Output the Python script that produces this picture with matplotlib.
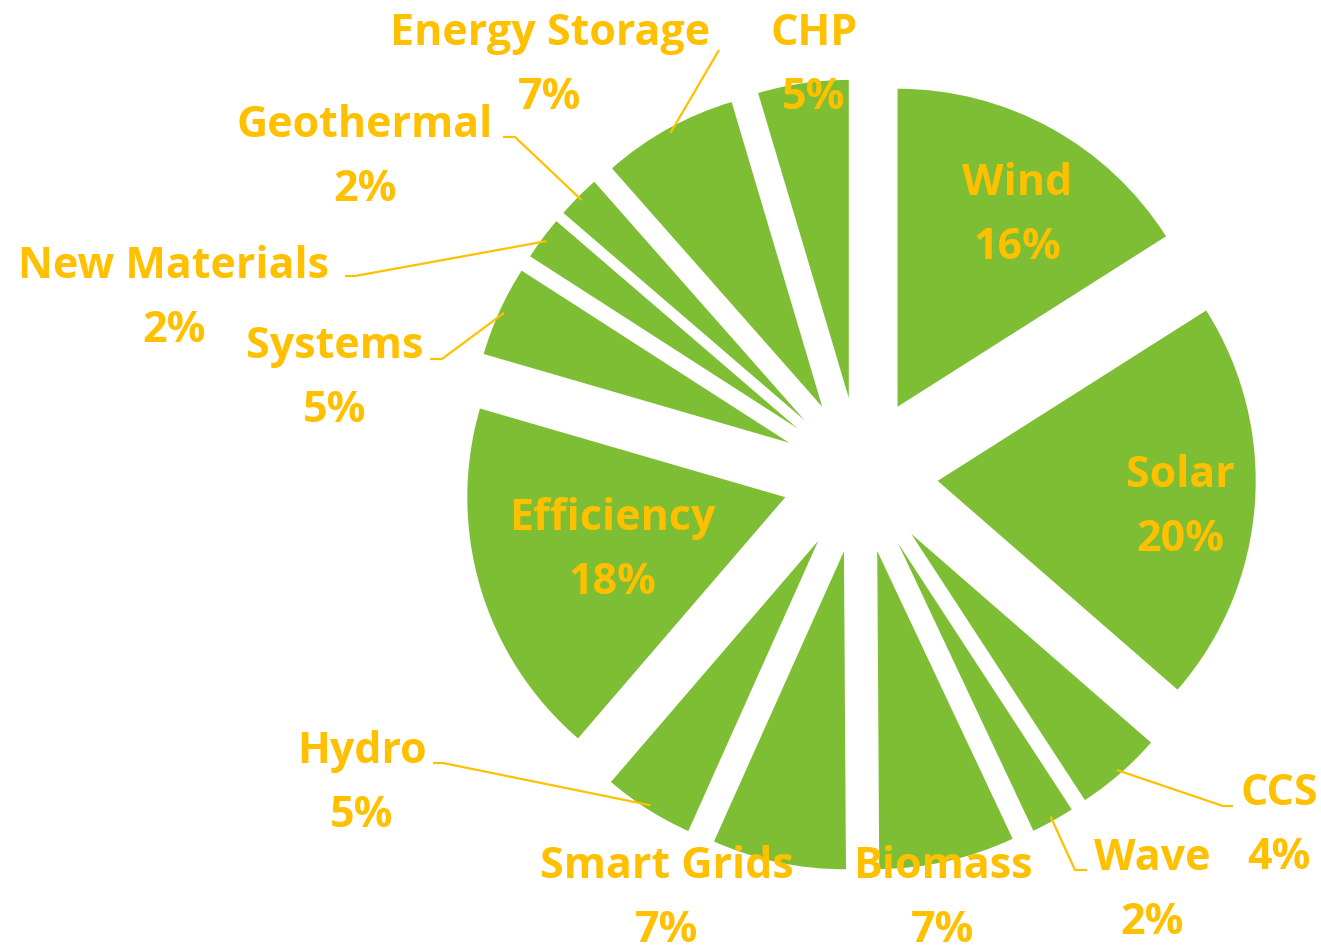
import numpy as np
import matplotlib
matplotlib.use("Agg")
import matplotlib.pyplot as plt

# ---- data ----
categories = ["Wind", "Solar", "CCS", "Wave", "Biomass", "Smart Grids", "Hydro",
              "Efficiency", "Systems", "New Materials", "Geothermal",
              "Energy Storage", "CHP"]
shares = [16.0, 20.4, 4.4, 2.2, 6.9, 6.8, 4.6, 18.2, 4.6, 2.2, 2.2, 6.9, 4.6]

# ---- style / layout (pixel units, y measured from top) ----
GREEN = "#7DBE34"
GOLD = "#FFC000"
EXPLODE = 0.245  # fraction of radius
FONT = ["Open Sans", "DejaVu Sans"]
FS = 31
LINE_GAP = 64  # px between baselines

W, H = 1321, 950
CX, CY, R = 860, 475, 318

# baseline of the name line, centre x
label_pos = {
    "Wind": (1017, 195), "Solar": (1180, 487), "Efficiency": (612, 530),
    "CCS": (1279, 805), "Wave": (1152, 870), "Biomass": (943, 878),
    "Smart Grids": (667, 878), "Hydro": (362, 763),
    "Systems": (335, 358), "New Materials": (174, 278),
    "Geothermal": (365, 137), "Energy Storage": (550, 45),
    "CHP": (814, 45),
}
leader = {  # (elbow, end); start computed from the wedge
    "CCS": ((1223, 806), (1233, 806)),
    "Wave": ((1075, 870), (1087, 870)),
    "Hydro": ((443, 763), (433, 763)),
    "Systems": ((442, 359), (430, 359)),
    "New Materials": ((355, 276), (345, 276)),
    "Geothermal": ((515, 137), (503, 137)),
    "Energy Storage": ((719, 50), None),
}

fig = plt.figure(figsize=(W / 100, H / 100), dpi=100)
ax = fig.add_axes([0, 0, 1, 1])

wedges, _ = ax.pie(shares, explode=[EXPLODE * R] * len(shares), startangle=90,
                   counterclock=False, colors=[GREEN] * len(shares),
                   radius=R, center=(CX, H - CY), frame=True,
                   wedgeprops=dict(linewidth=0))
ax.set_xlim(0, W)
ax.set_ylim(0, H)
ax.set_aspect("auto")
ax.axis("off")

for w, name, v in zip(wedges, categories, shares):
    mid = np.deg2rad((w.theta1 + w.theta2) / 2)
    if name in leader:
        d = R * (EXPLODE + 0.985)
        start = (CX + d * np.cos(mid), H - CY + d * np.sin(mid))
        elbow, end = leader[name]
        pts = [start, (elbow[0], H - elbow[1])]
        if end:
            pts.append((end[0], H - end[1]))
        xs, ys = zip(*pts)
        ax.plot(xs, ys, color=GOLD, lw=1.6, zorder=3, solid_capstyle="butt")
    x, y = label_pos[name]
    kw = dict(ha="center", va="baseline", color=GOLD, fontsize=FS,
              fontweight="bold", family=FONT, zorder=5)
    ax.text(x, H - y, name, **kw)
    ax.text(x, H - y - LINE_GAP, f"{round(v)}%", **kw)

fig.savefig("out.png", dpi=100)
